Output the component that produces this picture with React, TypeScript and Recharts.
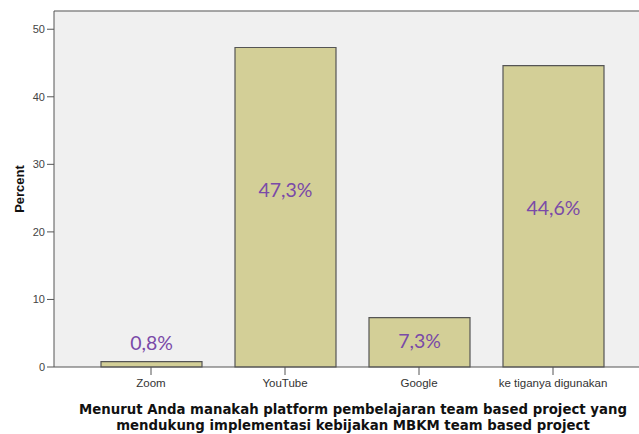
import React from "react";
import {
  BarChart,
  Bar,
  XAxis,
  YAxis,
  CartesianGrid,
  ReferenceLine,
  LabelList,
} from "recharts";

const categories = ["Zoom", "YouTube", "Google", "ke tiganya digunakan"];
const percents = [0.8, 47.3, 7.3, 44.6];
const valueLabels = ["0,8%", "47,3%", "7,3%", "44,6%"];
const yTicks = [0, 10, 20, 30, 40, 50];
const yMax = 52.7;
const titleLines = [
  "Menurut Anda manakah platform pembelajaran team based project yang",
  "mendukung implementasi kebijakan MBKM team based project",
];

const data = categories.map((name, i) => ({
  name,
  percent: percents[i],
  label: valueLabels[i],
}));

// labels sit where the slide text boxes were: above tiny bars, middle of short ones, upper part of tall ones
const BarText = (props: any) => {
  const { x, y, width, height, index } = props;
  let ty = y + 142;
  if (height < 20) ty = y - 19;
  else if (height < 100) ty = y + height / 2 - 2;
  return (
    <text
      x={x + width / 2}
      y={ty}
      textAnchor="middle"
      dominantBaseline="central"
      fontFamily="Lato, 'Open Sans', sans-serif"
      fontSize={19.5}
      fill="#7a4aa8"
    >
      {valueLabels[index]}
    </text>
  );
};

const XTitle = () => (
  <text
    textAnchor="middle"
    fontFamily="'DejaVu Sans', sans-serif"
    fontWeight="bold"
    fontSize={13.3}
    fill="#111"
  >
    <tspan x={353} y={414}>
      {titleLines[0]}
    </tspan>
    <tspan x={353} y={430}>
      {titleLines[1]}
    </tspan>
  </text>
);

const YTitle = () => (
  <text
    x={24}
    y={189}
    transform="rotate(-90 24 189)"
    textAnchor="middle"
    fontFamily="'Liberation Sans', Arial, sans-serif"
    fontWeight="bold"
    fontSize={13}
    fill="#111"
  >
    Percent
  </text>
);

export default function App() {
  return (
    <div style={{ position: "absolute", left: 0, top: 0, background: "#fff" }}>
      <BarChart
        width={639}
        height={434}
        data={data}
        margin={{ top: 11, right: 0, bottom: 0, left: 0 }}
        barSize={101}
      >
        <CartesianGrid
          fill="#f0f0f0"
          horizontal={false}
          vertical={false}
          stroke="none"
        />
        <ReferenceLine y={yMax} stroke="#8a8a8a" strokeWidth={1.5} />
        <XAxis
          dataKey="name"
          height={67}
          padding={{ left: 30, right: 19 }}
          stroke="#555"
          tickSize={8}
          tick={{
            fontSize: 11.5,
            fontFamily: "'Liberation Sans', Arial, sans-serif",
            fill: "#333",
            dy: 2,
          }}
          interval={0}
          label={{ content: () => <XTitle /> }}
        />
        <YAxis
          width={54}
          domain={[0, yMax]}
          ticks={yTicks}
          stroke="#555"
          tickSize={7}
          tick={{
            fontSize: 11,
            fontFamily: "'Liberation Sans', Arial, sans-serif",
            fill: "#444",
          }}
          label={{ content: () => <YTitle /> }}
        />
        <Bar
          dataKey="percent"
          fill="#d3cf97"
          stroke="#555"
          strokeWidth={1.2}
          isAnimationActive={false}
        >
          <LabelList dataKey="label" content={BarText} />
        </Bar>
      </BarChart>
    </div>
  );
}
